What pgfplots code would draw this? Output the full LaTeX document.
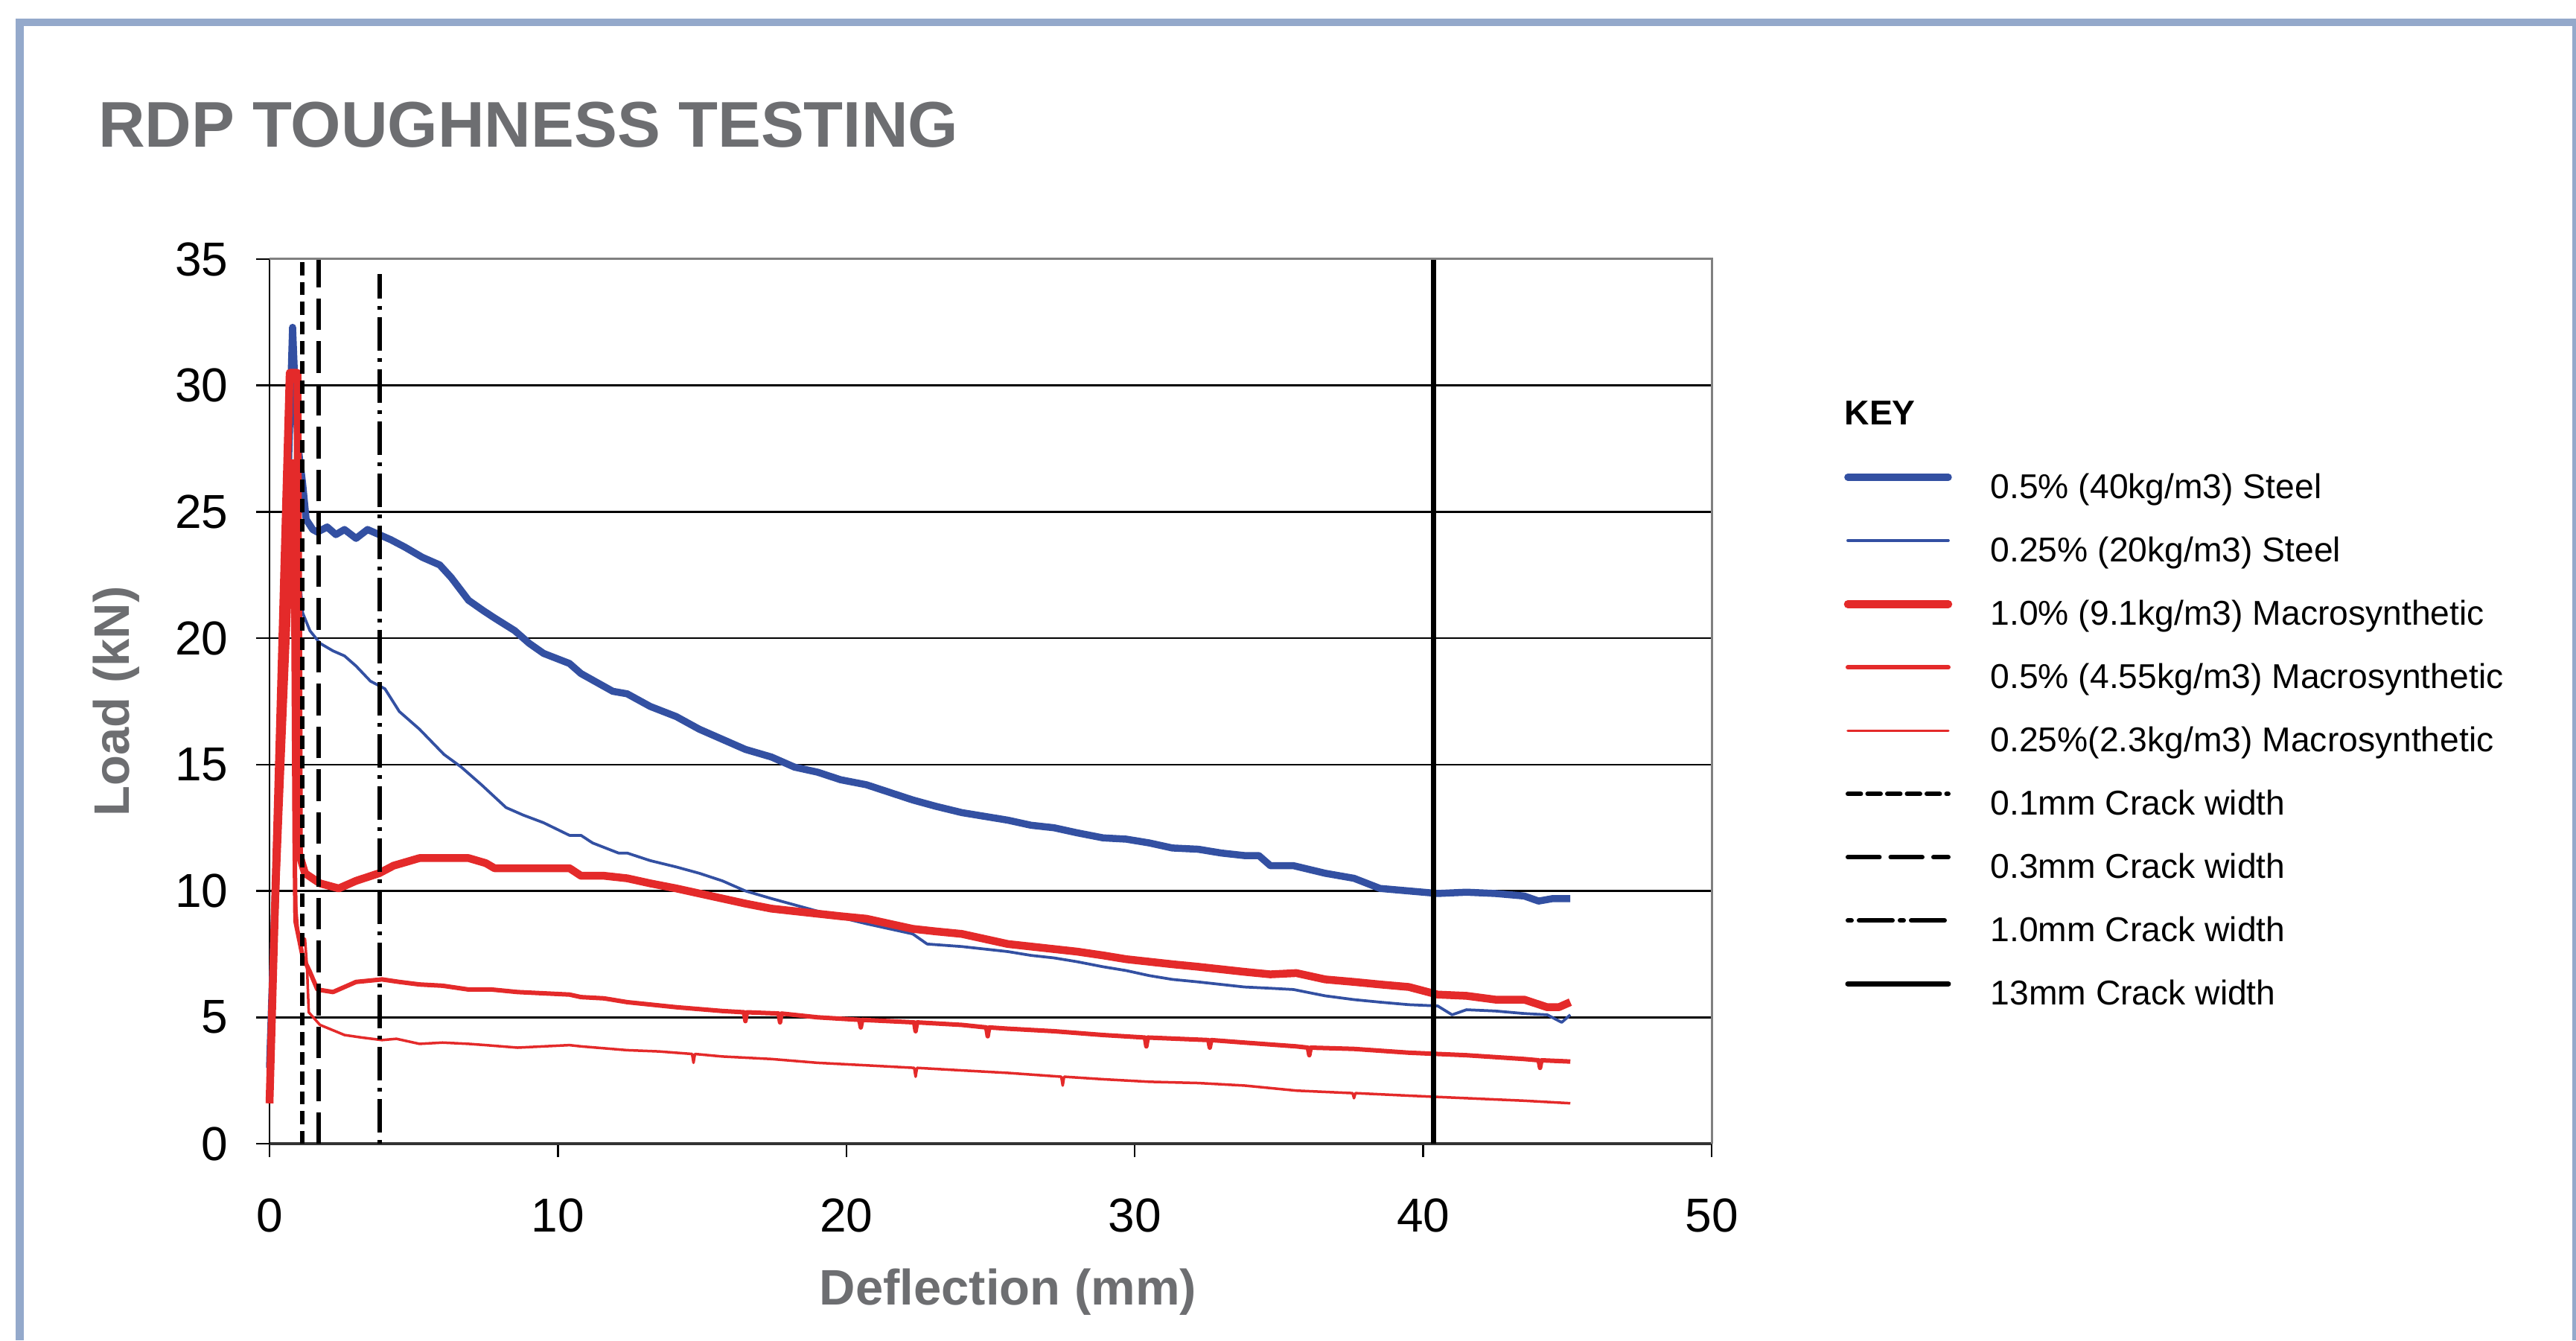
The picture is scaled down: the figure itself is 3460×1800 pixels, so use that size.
\documentclass[border=0pt]{standalone}
\usepackage{fontspec}
\setmainfont{Liberation Sans}
\usepackage{pgfplots}
\pgfplotsset{compat=1.18}
\definecolor{framecol}{HTML}{94A9CB}
\definecolor{titlegray}{HTML}{6D6E71}
\definecolor{steelblue}{HTML}{3350A2}
\definecolor{macrored}{HTML}{E42A2A}
\begin{document}
\begin{tikzpicture}
\begin{scope}[x=0.2pt,y=0.2pt]
\path[use as bounding box] (0,0) rectangle (3460,1800);
\fill[white] (0,0) rectangle (3460,1800);
\fill[framecol] (21,0) rectangle (32,1775);
\fill[framecol] (21,1765) rectangle (3460,1775);
\fill[framecol] (3455,0) rectangle (3460,1775);
\node[anchor=base west, inner sep=0pt, font=\fontsize{17.35}{20}\selectfont\bfseries, text=titlegray] at (131,1602) {RDP TOUGHNESS TESTING};
\end{scope}
\begin{axis}[
  at={(72.4pt,52.8pt)}, anchor=south west,
  width=387.4pt, height=237.6pt, scale only axis,
  xmin=0, xmax=50, ymin=0, ymax=35,
  xtick={0,10,...,50}, ytick={0,5,...,35},
  axis x line*=bottom, axis y line*=left,
  x axis line style={draw=black!80, line width=0.7pt, -},
  y axis line style={draw=black, line width=0.5pt, -},
  tick align=outside, major tick length=3.6pt,
  tick style={black, line width=0.5pt},
  ymajorgrids, grid style={black, line width=0.5pt},
  ticklabel style={font=\fontsize{12.8}{14}\selectfont, inner sep=0pt},
  yticklabel style={xshift=-7.3pt},
  xticklabel style={yshift=-11pt},
  /pgf/number format/assume math mode=true,
  xlabel={Deflection (mm)}, ylabel={Load (kN)},
  label style={font=\fontsize{13.4}{15}\selectfont\bfseries, text=titlegray},
  xlabel style={at={(axis description cs:0.5121,0)}, anchor=base, yshift=-43.2pt},
  ylabel style={at={(axis description cs:-0.0971,0.5)}, anchor=base},
  clip=false,
  legend cell align=left,
  legend style={at={(axis description cs:1.0917,0.7575)}, anchor=north west,
    draw=none, fill=none, inner sep=0pt, outer sep=0pt, row sep=8.5pt,
    font=\fontsize{9.25}{11}\selectfont,
    nodes={inner sep=0pt, text height=6.6pt, text depth=1.9pt},
    /tikz/every odd column/.append style={column sep=10.3pt}},
  legend image code/.code={\draw[#1, line cap=round] (0pt,3.3pt) -- (27pt,3.3pt);},
]
% 0.5% (40kg/m3) Steel
\addplot[steelblue, line width=1.9pt, line join=round] coordinates {
(0,3.0) (0.4,17) (0.8,32.3) (0.88,30) (1.0,27.5) (1.15,26.1) (1.27,24.7) (1.5,24.3) (1.66,24.2) (2.0,24.4) (2.3,24.1) (2.6,24.3) (3.0,23.95) (3.4,24.3) (3.8,24.1) (4.2,23.9) (4.7,23.6) (5.3,23.2) (5.9,22.9) (6.3,22.4) (6.9,21.5) (7.4,21.1) (7.8,20.8) (8.5,20.3) (9.0,19.8) (9.5,19.4) (10.4,19.0) (10.8,18.6) (11.9,17.9) (12.4,17.8) (13.2,17.3) (14.1,16.9) (14.9,16.4) (15.7,16.0) (16.5,15.6) (17.4,15.3) (18.2,14.9) (19.0,14.7) (19.8,14.4) (20.7,14.2) (21.5,13.9) (22.3,13.6) (23.1,13.35) (24.0,13.1) (24.8,12.95) (25.6,12.8) (26.4,12.6) (27.2,12.5) (28.0,12.3) (28.9,12.1) (29.7,12.05) (30.5,11.9) (31.3,11.7) (32.2,11.65) (33.0,11.5) (33.8,11.4) (34.3,11.4) (34.7,11.0) (35.5,11.0) (36.6,10.7) (37.6,10.5) (38.5,10.1) (39.5,10.0) (40.5,9.9) (41.5,9.95) (42.5,9.9) (43.5,9.8) (44.0,9.6) (44.5,9.7) (45.1,9.7)
};
\addlegendentry{0.5\% (40kg/m3) Steel}
% 0.25% (20kg/m3) Steel
\addplot[steelblue, line width=0.75pt, line join=round] coordinates {
(0,5) (0.45,16) (0.85,26.5) (1.0,23) (1.15,21.0) (1.4,20.3) (1.75,19.8) (2.2,19.5) (2.6,19.3) (3.0,18.9) (3.5,18.3) (4.0,18.0) (4.5,17.1) (5.2,16.4) (6.05,15.4) (6.65,14.9) (7.35,14.2) (8.2,13.3) (8.8,13.0) (9.5,12.7) (10.4,12.2) (10.8,12.2) (11.2,11.9) (12.1,11.5) (12.4,11.5) (13.2,11.2) (14.1,10.95) (14.9,10.7) (15.7,10.4) (16.5,10.0) (17.4,9.7) (18.2,9.45) (19.0,9.2) (19.8,8.95) (20.7,8.7) (21.5,8.5) (22.3,8.3) (22.8,7.9) (24.0,7.8) (24.8,7.7) (25.6,7.6) (26.4,7.45) (27.2,7.35) (28.0,7.2) (28.9,7.0) (29.7,6.85) (30.5,6.65) (31.3,6.5) (32.2,6.4) (33.0,6.3) (33.8,6.2) (34.7,6.15) (35.5,6.1) (36.6,5.85) (37.6,5.7) (38.5,5.6) (39.5,5.5) (40.5,5.45) (41.0,5.1) (41.5,5.3) (42.5,5.25) (43.5,5.15) (44.3,5.1) (44.8,4.8) (45.1,5.1)
};
\addlegendentry{0.25\% (20kg/m3) Steel}
% 1.0% (9.1kg/m3) Macrosynthetic
\addplot[macrored, line width=2.1pt, line join=round] coordinates {
(0,1.6) (0.35,16) (0.7,30.5) (0.97,30.5) (1.02,11.5) (1.23,10.7) (1.75,10.3) (2.4,10.1) (3.0,10.4) (3.8,10.7) (4.3,11.0) (5.2,11.3) (6.05,11.3) (6.9,11.3) (7.5,11.1) (7.8,10.9) (8.6,10.9) (9.5,10.9) (10.4,10.9) (10.8,10.6) (11.6,10.6) (12.4,10.5) (13.2,10.3) (14.1,10.1) (14.9,9.9) (15.7,9.7) (16.5,9.5) (17.4,9.3) (18.2,9.2) (19.0,9.1) (19.8,9.0) (20.7,8.9) (21.5,8.7) (22.3,8.5) (23.1,8.4) (24.0,8.3) (24.8,8.1) (25.6,7.9) (26.4,7.8) (27.2,7.7) (28.0,7.6) (28.9,7.45) (29.7,7.3) (30.5,7.2) (31.3,7.1) (32.2,7.0) (33.0,6.9) (33.8,6.8) (34.7,6.7) (35.6,6.75) (36.6,6.5) (37.6,6.4) (38.5,6.3) (39.5,6.2) (40.5,5.9) (41.5,5.85) (42.5,5.7) (43.5,5.7) (44.3,5.4) (44.7,5.4) (45.1,5.6)
};
\addlegendentry{1.0\% (9.1kg/m3) Macrosynthetic}
% 0.5% (4.55kg/m3) Macrosynthetic
\addplot[macrored, line width=1.2pt, line join=round] coordinates {
(0,1.6) (0.4,15) (0.8,27) (0.87,12) (0.9,8.8) (1.15,7.4) (1.4,6.8) (1.66,6.1) (2.2,6.0) (3.0,6.4) (3.9,6.5) (4.5,6.4) (5.2,6.3) (6.0,6.25) (6.9,6.1) (7.7,6.1) (8.6,6.0) (9.5,5.95) (10.4,5.9) (10.8,5.8) (11.6,5.75) (12.4,5.6) (14.1,5.4) (15.7,5.25) (16.45,5.2) (16.5,4.85) (16.55,5.2) (17.65,5.15) (17.7,4.8) (17.75,5.15) (19.0,5.0) (20.45,4.9) (20.5,4.6) (20.55,4.9) (22.35,4.8) (22.4,4.45) (22.45,4.8) (24.0,4.7) (24.85,4.6) (24.9,4.25) (24.95,4.6) (25.6,4.55) (27.2,4.45) (28.9,4.3) (30.35,4.2) (30.4,3.85) (30.45,4.2) (32.55,4.1) (32.6,3.8) (32.65,4.1) (33.8,4.0) (35.6,3.85) (36.0,3.8) (36.05,3.5) (36.1,3.8) (37.6,3.75) (39.5,3.6) (41.5,3.5) (43.5,3.35) (44.0,3.3) (44.05,3.0) (44.1,3.3) (45.1,3.25)
};
\addlegendentry{0.5\% (4.55kg/m3) Macrosynthetic}
% 0.25% (2.3kg/m3) Macrosynthetic
\addplot[macrored, line width=0.7pt, line join=round] coordinates {
(0,1.6) (0.4,13) (0.8,24) (0.88,10) (1.0,8.2) (1.23,8.1) (1.3,7.0) (1.36,5.2) (1.75,4.7) (2.6,4.3) (3.2,4.2) (3.9,4.1) (4.4,4.15) (5.2,3.95) (6.0,4.0) (6.9,3.95) (7.5,3.9) (8.6,3.8) (9.5,3.85) (10.4,3.9) (10.8,3.85) (12.4,3.7) (13.5,3.65) (14.65,3.55) (14.7,3.2) (14.75,3.55) (15.7,3.45) (17.4,3.35) (19.0,3.2) (20.7,3.1) (22.35,3.0) (22.4,2.65) (22.45,3.0) (24.0,2.9) (25.6,2.8) (27.45,2.65) (27.5,2.3) (27.55,2.65) (28.9,2.55) (30.5,2.45) (32.2,2.4) (33.8,2.3) (35.6,2.1) (37.55,2.0) (37.6,1.8) (37.65,2.0) (39.5,1.9) (41.5,1.8) (43.5,1.7) (45.1,1.6)
};
\addlegendentry{0.25\%(2.3kg/m3) Macrosynthetic}
% crack widths
\addplot[black, line width=1.2pt, dash pattern=on 3.5pt off 1.8pt] coordinates {(1.13,0) (1.13,35)};
\addlegendentry{0.1mm Crack width}
\addplot[black, line width=1.2pt, dash pattern=on 8.5pt off 3pt] coordinates {(1.70,0) (1.70,35)};
\addlegendentry{0.3mm Crack width}
\addplot[black, line width=1.2pt, dash pattern=on 1pt off 2pt on 9pt off 2pt] coordinates {(3.83,0) (3.83,34.4)};
\addlegendentry{1.0mm Crack width}
\addplot[black, line width=1.4pt] coordinates {(40.35,0) (40.35,35)};
\addlegendentry{13mm Crack width}
\draw[black!50, line width=0.6pt] (rel axis cs:0,1) -- (rel axis cs:1,1) -- (rel axis cs:1,0);
\node[anchor=base west, inner sep=0pt, font=\fontsize{9.25}{11}\selectfont\bfseries] at (axis description cs:1.0917,0.8123) {KEY};
\end{axis}
\end{tikzpicture}
\end{document}
